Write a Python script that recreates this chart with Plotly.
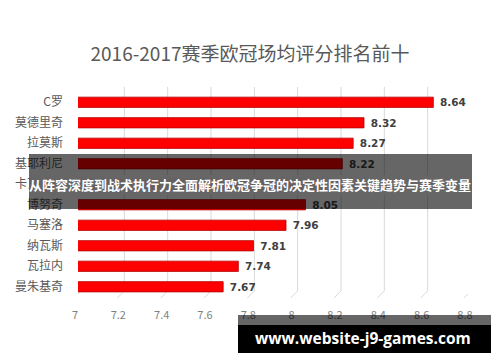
import plotly.graph_objects as go

players = ["C罗", "莫德里奇", "拉莫斯", "基耶利尼", "卡瓦哈尔", "博努奇", "马塞洛", "纳瓦斯", "瓦拉内", "曼朱基奇"]
ratings = [8.64, 8.32, 8.27, 8.22, 8.14, 8.05, 7.96, 7.81, 7.74, 7.67]
tick_vals = [7, 7.2, 7.4, 7.6, 7.8, 8, 8.2, 8.4, 8.6, 8.8]
tick_text = ["7", "7.2", "7.4", "7.6", "7.8", "8", "8.2", "8.4", "8.6", "8.8"]
title_text = "2016-2017赛季欧冠场均评分排名前十"
banner_text = "从阵容深度到战术执行力全面解析欧冠争冠的决定性因素关键趋势与赛季变量"
watermark_text = "www.website-j9-games.com"

FONT = "Noto Sans CJK SC, Noto Sans, sans-serif"

fig = go.Figure(go.Bar(
    x=ratings, y=players, orientation="h",
    marker=dict(color="#ff0000", line=dict(color="#b00000", width=0.8)),
    text=[f" {v:.2f}" for v in ratings], textposition="outside", constraintext="none",
    textfont=dict(family="DejaVu Sans, sans-serif", size=10.5, color="#404040", weight="bold"),
    cliponaxis=False, width=0.5,
))

shapes = []
for t in tick_vals:
    if t > 7:
        shapes.append(dict(type="line", xref="x", yref="paper", xsizemode="pixel", xanchor=t,
                           x0=3, x1=3, y0=0.03, y1=1.025, line=dict(color="#d9d9d9", width=1), layer="below"))
    shapes.append(dict(type="line", xref="x", yref="paper", xsizemode="pixel", xanchor=t,
                       x0=3, x1=-4, y0=0.03, y1=-0.005, line=dict(color="#d9d9d9", width=1), layer="below"))
fig.update_layout(shapes=shapes)

W, H = 500, 362
def px_rect(x0, y0, x1, y1, color):
    fig.add_shape(type="rect", xref="paper", yref="paper",
                  x0=(x0 - 78) / 390, x1=(x1 - 78) / 390,
                  y0=(297 - y1) / 205, y1=(297 - y0) / 205,
                  line=dict(width=0), fillcolor=color, layer="above")

px_rect(29, 154, 472, 209, "rgba(0,0,0,0.6)")
px_rect(29, 175, 472, 195, "rgba(102,102,102,0.95)")
px_rect(238, 315, 491, 325, "rgba(0,0,0,0.6)")
px_rect(238, 325, 491, 353, "#000000")

fig.add_annotation(xref="paper", yref="paper", x=(250 - 78) / 390, y=(297 - 184) / 205,
                   text=banner_text, showarrow=False, xanchor="center", yanchor="middle",
                   font=dict(family=FONT, size=13, color="#ffffff", weight="bold"))
fig.add_annotation(xref="paper", yref="paper", x=(363 - 78) / 390, y=(297 - 338) / 205,
                   text=watermark_text, showarrow=False, xanchor="center", yanchor="middle",
                   font=dict(family="Open Sans, DejaVu Sans, sans-serif", size=15.5, color="#ffffff", weight="bold"))

fig.update_layout(
    width=W, height=H,
    margin=dict(l=78, r=32, t=92, b=65),
    paper_bgcolor="white", plot_bgcolor="white",
    title=dict(text=title_text, x=0.5, xanchor="center", y=1 - 54 / H, yanchor="middle",
               font=dict(family=FONT, size=19, color="#595959")),
    xaxis=dict(range=[7, 8.8], tickvals=tick_vals, ticktext=tick_text, showgrid=False,
               zeroline=False, showline=False, ticklabelshift=-3, ticklabelstandoff=10,
               tickfont=dict(family=FONT, size=11, color="#7f7f7f")),
    yaxis=dict(autorange="reversed", showgrid=False, showline=False, ticks="",
               ticklabelstandoff=14, tickfont=dict(family=FONT, size=12, color="#595959")),
    showlegend=False,
)

fig.write_html("out.html", config={"displayModeBar": False},
               post_script="document.body.style.margin='0';document.body.style.overflow='hidden';")
